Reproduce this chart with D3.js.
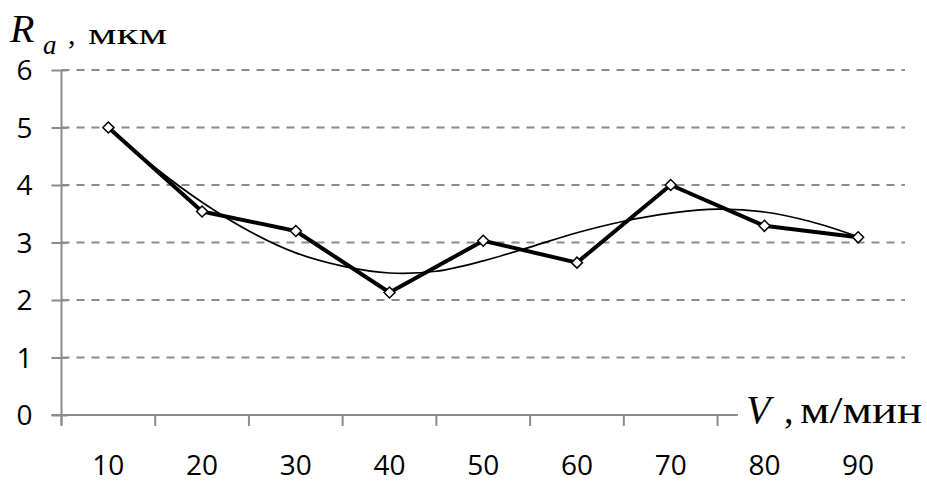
<!DOCTYPE html>
<html lang="ru">
<head>
<meta charset="utf-8">
<title>Ra от V</title>
<style>
    body { margin: 0; background: white; }
    svg { display: block; background: white; }
    .tick-label { font-family: "Open Sans", sans-serif; font-size: 28px; fill: black; }
    .axis-title { font-family: "Liberation Serif", "Times New Roman", serif; fill: black; }
</style>
</head>
<body>
<script src="https://cdnjs.cloudflare.com/ajax/libs/d3/7.8.5/d3.min.js"></script>
<script>
// скорость резания, м/мин
var speeds = [10, 20, 30, 40, 50, 60, 70, 80, 90];
// шероховатость Ra, мкм
var roughness = [5.0, 3.54, 3.2, 2.13, 3.03, 2.65, 4.0, 3.29, 3.09];
// линия тренда
var trendV = [10, 15, 20, 25, 30, 35, 40, 45, 50, 55, 60, 65, 70, 75, 80, 85, 90];
var trendRa = [5.0, 4.3, 3.7, 3.2, 2.82, 2.59, 2.47, 2.5, 2.68, 2.92, 3.17, 3.37, 3.51, 3.58, 3.53, 3.36, 3.1];
var yTicks = [0, 1, 2, 3, 4, 5, 6];

var fullwidth = 927, fullheight = 482;
var margin = { top: 70, right: 22, bottom: 67, left: 61.5 };
var width = fullwidth - margin.left - margin.right;
var height = fullheight - margin.top - margin.bottom;

var svg = d3.select("body").append("svg")
    .attr("width", fullwidth)
    .attr("height", fullheight);

var g = svg.append("g")
    .attr("transform", "translate(" + margin.left + "," + margin.top + ")");

var xBand = d3.scaleBand().domain(speeds).range([0, width]);
// непрерывная шкала для линии тренда
var xLin = d3.scaleLinear()
    .domain([10, 90])
    .range([xBand(10) + xBand.bandwidth() / 2, xBand(90) + xBand.bandwidth() / 2]);
var yScale = d3.scaleLinear().domain([0, 6]).range([height, 0]);

// сетка
g.selectAll(".grid").data(yTicks.filter(function(d) { return d > 0; }))
    .enter().append("line")
    .attr("x1", 0).attr("x2", width)
    .attr("y1", function(d) { return yScale(d); })
    .attr("y2", function(d) { return yScale(d); })
    .attr("stroke", "#8c8c8c")
    .attr("stroke-width", 2)
    .attr("stroke-dasharray", "8,7");

// ось Y
var yAxis = d3.axisLeft(yScale).tickValues(yTicks).tickSize(10).tickFormat("");
var yg = g.append("g").call(yAxis);
yg.select(".domain").remove();
yg.append("line").attr("x1", 0).attr("x2", 0).attr("y1", 0).attr("y2", height + 10)
    .attr("stroke", "#8c8c8c").attr("stroke-width", 2);
yg.selectAll(".tick line").attr("stroke", "#8c8c8c").attr("stroke-width", 2).attr("x2", -10).attr("x1", 6);

g.selectAll(".ylab").data(yTicks).enter().append("text")
    .attr("class", "tick-label")
    .attr("x", -29)
    .attr("y", function(d) { return yScale(d); })
    .attr("dy", "0.36em")
    .attr("text-anchor", "end")
    .text(function(d) { return d; });

// ось X
var xTickPos = speeds.map(function(d) { return xBand(d); }).concat([width]);
g.append("line").attr("x1", -10).attr("x2", width).attr("y1", height).attr("y2", height)
    .attr("stroke", "#8c8c8c").attr("stroke-width", 2);
g.selectAll(".xtick").data(xTickPos).enter().append("line")
    .attr("x1", function(d) { return d; }).attr("x2", function(d) { return d; })
    .attr("y1", height).attr("y2", height + 11)
    .attr("stroke", "#8c8c8c").attr("stroke-width", 2);

g.selectAll(".xlab").data(speeds).enter().append("text")
    .attr("class", "tick-label")
    .attr("x", function(d) { return xBand(d) + xBand.bandwidth() / 2; })
    .attr("y", height + 60)
    .attr("text-anchor", "middle")
    .text(function(d) { return d; });

// линия тренда
var trend = trendV.map(function(v, i) { return { v: v, ra: trendRa[i] }; });
g.append("path").datum(trend)
    .attr("fill", "none")
    .attr("stroke", "black")
    .attr("stroke-width", 1.7)
    .attr("d", d3.line()
        .x(function(d) { return xLin(d.v); })
        .y(function(d) { return yScale(d.ra); })
        .curve(d3.curveCatmullRom));

// основная линия
var data = speeds.map(function(v, i) { return { v: v, ra: roughness[i] }; });
g.append("path").datum(data)
    .attr("fill", "none")
    .attr("stroke", "black")
    .attr("stroke-width", 4)
    .attr("stroke-linejoin", "round")
    .attr("d", d3.line()
        .x(function(d) { return xLin(d.v); })
        .y(function(d) { return yScale(d.ra); }));

g.selectAll(".marker").data(data).enter().append("path")
    .attr("d", "M0,-5.5L5.5,0L0,5.5L-5.5,0Z")
    .attr("transform", function(d) { return "translate(" + xLin(d.v) + "," + yScale(d.ra) + ")"; })
    .attr("fill", "white")
    .attr("stroke", "black")
    .attr("stroke-width", 1.5);

// подпись оси X
svg.append("rect").attr("x", 738).attr("y", 392).attr("width", 189).attr("height", 40).attr("fill", "white");
svg.append("text").attr("class", "axis-title")
    .attr("x", 746).attr("y", 423)
    .attr("font-size", 40).attr("font-style", "italic")
    .text("V");
svg.append("text").attr("class", "axis-title")
    .attr("x", 784).attr("y", 423)
    .attr("font-size", 38)
    .text(",");
svg.append("text").attr("class", "axis-title")
    .attr("x", 800).attr("y", 423)
    .attr("font-size", 38)
    .attr("textLength", 122).attr("lengthAdjust", "spacingAndGlyphs")
    .text("м/мин");

// подпись оси Y
svg.append("text").attr("class", "axis-title")
    .attr("x", 10).attr("y", 41.5)
    .attr("font-size", 40).attr("font-style", "italic")
    .text("R");
svg.append("text").attr("class", "axis-title")
    .attr("x", 43).attr("y", 54)
    .attr("font-size", 27).attr("font-style", "italic")
    .text("a");
svg.append("text").attr("class", "axis-title")
    .attr("x", 68).attr("y", 44)
    .attr("font-size", 30)
    .text(",");
svg.append("text").attr("class", "axis-title")
    .attr("x", 88).attr("y", 44)
    .attr("font-size", 30)
    .attr("textLength", 79).attr("lengthAdjust", "spacingAndGlyphs")
    .text("мкм");
</script>
</body>
</html>
